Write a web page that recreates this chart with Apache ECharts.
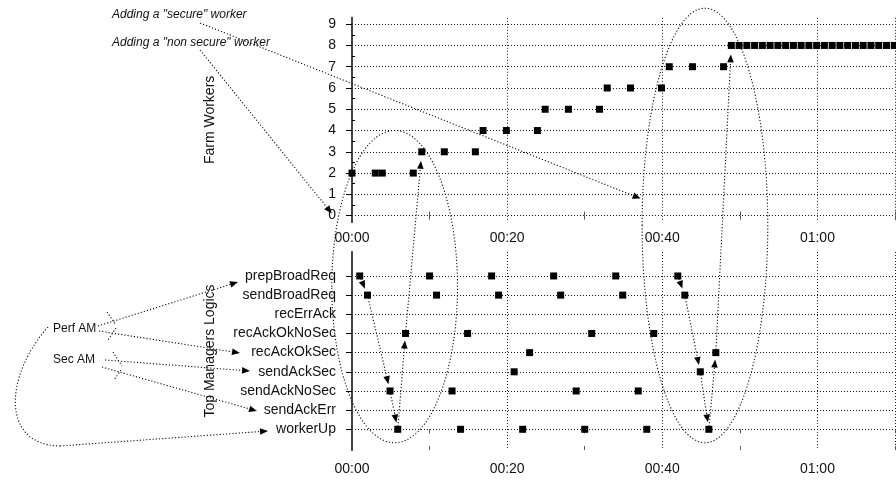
<!DOCTYPE html>
<html><head><meta charset="utf-8">
<script src="https://cdn.jsdelivr.net/npm/echarts@6/dist/echarts.min.js"></script>
<style>html,body{margin:0;padding:0;background:#fff}#c{width:896px;height:483px}</style>
</head><body><div id="c"></div>
<script>
// ---- data (time in minutes) ----
const tickMinutes = [0, 20, 40, 60];
const tickLabels = ['00:00', '00:20', '00:40', '01:00'];
const workerTicks = [0, 1, 2, 3, 4, 5, 6, 7, 8, 9];
const farmTimes = [0, 3, 3.9, 7.9, 9, 11.9, 15.9, 16.9, 19.9, 23.9, 24.9, 27.9, 31.9, 32.9, 35.9, 39.9, 40.9, 43.9, 47.9,
  48.9, 49.9, 50.9, 51.9, 52.9, 53.9, 54.9, 55.9, 56.9, 57.9, 58.9, 59.9, 60.9, 61.9, 62.9, 63.9, 64.9, 65.9, 66.9, 67.9, 68.9, 69.9];
const farmWorkers = [2, 2, 2, 2, 3, 3, 3, 4, 4, 4, 5, 5, 5, 6, 6, 6, 7, 7, 7,
  8, 8, 8, 8, 8, 8, 8, 8, 8, 8, 8, 8, 8, 8, 8, 8, 8, 8, 8, 8, 8, 8];
const categories = ['workerUp', 'sendAckErr', 'sendAckNoSec', 'sendAckSec', 'recAckOkSec', 'recAckOkNoSec', 'recErrAck', 'sendBroadReq', 'prepBroadReq'];
const prepBroadReq = [1, 10, 18, 26, 34, 42];
const sendBroadReq = [2, 10.9, 18.9, 26.9, 34.9, 42.9];
const recErrAck = [];
const recAckOkNoSec = [6.9, 14.9, 30.9, 38.9];
const recAckOkSec = [22.9, 46.9];
const sendAckSec = [20.9, 44.9];
const sendAckNoSec = [4.9, 12.9, 28.9, 36.9];
const sendAckErr = [];
const workerUp = [5.9, 14, 22, 30, 38, 46];

const managerEvents = { prepBroadReq, sendBroadReq, recErrAck, recAckOkNoSec, recAckOkSec, sendAckSec, sendAckNoSec, sendAckErr, workerUp };
const farmData = farmTimes.map((t, i) => [t, farmWorkers[i]]);
const managerData = [];
categories.forEach((c, ci) => managerEvents[c].forEach(t => managerData.push([t, ci])));

const FONT = "'Liberation Sans', Arial, Helvetica, sans-serif";
const TXT = '#111';
const dotted = { color: '#1a1a1a', type: [1, 2], width: 1 };
const xFmt = v => { const i = tickMinutes.indexOf(v); return i < 0 ? '' : tickLabels[i]; };

function mainX(g, margin) {
  return { gridIndex: g, type: 'value', min: 0, max: 70, interval: 20,
    axisLine: { show: false }, axisTick: { show: false },
    splitLine: { show: true, lineStyle: dotted },
    axisLabel: { formatter: xFmt, fontSize: 14, color: TXT, fontFamily: FONT, margin: margin } };
}
function minorX(g, pos) {
  return { gridIndex: g, type: 'value', position: pos, min: 0, max: 70,
    axisLine: { show: false }, splitLine: { show: false }, axisLabel: { show: false },
    axisTick: { show: true, inside: true, length: 4, customValues: [10, 30, 50, 70], lineStyle: { color: '#555' } } };
}
function rightY(g, min, max) {
  return { gridIndex: g, type: 'value', position: 'right', min: min, max: max,
    axisLine: { show: true, lineStyle: { color: '#444', width: 2 } },
    axisTick: { show: false }, axisLabel: { show: false }, splitLine: { show: false } };
}

const option = {
  animation: false,
  backgroundColor: '#fff',
  grid: [
    { left: 352, right: 1, top: 17.8, height: 204.2, outerBoundsMode: 'none', containLabel: false },
    { left: 352, right: 1, top: 252, height: 198, outerBoundsMode: 'none', containLabel: false }
  ],
  xAxis: [mainX(0, 9), minorX(0, 'top'), minorX(0, 'bottom'), mainX(1, 12), minorX(1, 'top'), minorX(1, 'bottom')],
  yAxis: [
    { gridIndex: 0, type: 'value', min: -0.3, max: 9.3,
      axisLine: { show: true, lineStyle: { color: '#000', width: 1.5 } },
      axisTick: { show: true, length: 6, customValues: workerTicks, lineStyle: { color: '#000' } },
      axisLabel: { customValues: workerTicks, fontSize: 14, color: TXT, fontFamily: FONT, margin: 16 },
      splitLine: { show: true, lineStyle: dotted },
      name: 'Farm Workers', nameLocation: 'middle', nameGap: 135,
      nameTextStyle: { fontSize: 14, color: TXT, fontFamily: FONT } },
    { gridIndex: 0, type: 'value', min: -0.3, max: 9.3,
      axisLine: { show: false }, axisLabel: { show: false }, splitLine: { show: false },
      axisTick: { show: true, length: 3, customValues: [0.5, 1.5, 2.5, 3.5, 4.5, 5.5, 6.5, 7.5, 8.5], lineStyle: { color: '#000' } } },
    rightY(0, -0.3, 9.3),
    { gridIndex: 1, type: 'value', min: -1.08, max: 9.25,
      axisLine: { show: true, lineStyle: { color: '#000', width: 1.5 } },
      axisTick: { show: true, length: 6, customValues: [0, 1, 2, 3, 4, 5, 6, 7, 8], lineStyle: { color: '#000' } },
      axisLabel: { customValues: [0, 1, 2, 3, 4, 5, 6, 7, 8], formatter: v => categories[Math.round(v)] || '',
        fontSize: 14, color: TXT, fontFamily: FONT, margin: 16 },
      splitLine: { show: true, lineStyle: dotted },
      name: 'Top Managers Logics', nameLocation: 'middle', nameGap: 135,
      nameTextStyle: { fontSize: 14, color: TXT, fontFamily: FONT } },
    rightY(1, -1.08, 9.25)
  ],
  series: [
    { type: 'scatter', xAxisIndex: 0, yAxisIndex: 0, data: farmData, symbol: 'rect', symbolSize: 7,
      itemStyle: { color: '#000', opacity: 1 }, z: 5 },
    { type: 'scatter', xAxisIndex: 3, yAxisIndex: 3, data: managerData, symbol: 'rect', symbolSize: 7,
      itemStyle: { color: '#000', opacity: 1 }, z: 5 }
  ]
};

const chart = echarts.init(document.getElementById('c'), null, { renderer: 'canvas' });
chart.setOption(option);

// ---- annotations ----
const P0 = v => chart.convertToPixel({ seriesIndex: 0 }, v);
const P1 = v => chart.convertToPixel({ seriesIndex: 1 }, v);
function ref(name, i) {
  if (name === 'farm') return P0([farmTimes[i], farmWorkers[i]]);
  return P1([managerEvents[name][i], categories.indexOf(name)]);
}
const els = [];
const ST = { stroke: '#111', lineWidth: 1.1, lineDash: [1.2, 2], fill: null };
function arrow(a, b, gap, startGap) {
  const dx = b[0] - a[0], dy = b[1] - a[1], len = Math.hypot(dx, dy), ux = dx / len, uy = dy / len;
  const s = [a[0] + ux * (startGap || 0), a[1] + uy * (startGap || 0)];
  const tip = [b[0] - ux * gap, b[1] - uy * gap];
  const L = 8, W = 3.3;
  const base = [tip[0] - ux * L, tip[1] - uy * L];
  els.push({ type: 'line', silent: true, z: 100, shape: { x1: s[0], y1: s[1], x2: base[0], y2: base[1] }, style: ST });
  els.push({ type: 'polygon', silent: true, z: 100,
    shape: { points: [tip, [base[0] - uy * W, base[1] + ux * W], [base[0] + uy * W, base[1] - ux * W]] },
    style: { fill: '#000' } });
}
function seg(pts) { els.push({ type: 'polyline', silent: true, z: 100, shape: { points: pts }, style: ST }); }
function text(t, x, y, italic) {
  els.push({ type: 'text', silent: true, z: 100, x: x, y: y,
    style: { text: t, fill: TXT, font: (italic ? 'italic ' : '') + '12px ' + FONT,
      align: 'left', verticalAlign: 'middle', textAlign: 'left', textVerticalAlign: 'middle' } });
}
function ellipse(t, topV, botV, halfW) {
  const top = P0([t, topV]), bot = P1([t, botV]);
  const rx = P0([t + halfW, 0])[0] - top[0];
  els.push({ type: 'ellipse', silent: true, z: 90,
    shape: { cx: top[0], cy: (top[1] + bot[1]) / 2, rx: rx, ry: (bot[1] - top[1]) / 2 }, style: ST });
}

// ellipses around the two worker-adding sequences
ellipse(5.5, 4, -0.7, 8.1);
ellipse(45.5, 9.75, -0.7, 8.1);

// chains
const chain1 = [['prepBroadReq', 0], ['sendBroadReq', 0], ['sendAckNoSec', 0], ['workerUp', 0], ['recAckOkNoSec', 0], ['farm', 4]];
const chain2 = [['prepBroadReq', 5], ['sendBroadReq', 5], ['sendAckSec', 1], ['workerUp', 5], ['recAckOkSec', 1], ['farm', 19]];
[chain1, chain2].forEach(ch => {
  for (let i = 0; i < ch.length - 1; i++) {
    arrow(ref(ch[i][0], ch[i][1]), ref(ch[i + 1][0], ch[i + 1][1]), i === ch.length - 2 ? 9 : 7, 3);
  }
});

// top-left notes
text('Adding a "secure" worker', 112, 15, true);
text('Adding a "non secure" worker', 112, 43, true);
arrow([200, 23], P0([37.2, 0.8]), 0);
arrow([200, 50], P0([-2.6, 0.1]), 0);

// left notes
text('Perf AM', 53, 329, false);
text('Sec AM', 53, 360, false);
arrow([98, 326], [238, 282], 0);
arrow([99, 331], [240, 353], 0);
arrow([105, 360], [250, 371], 0);
arrow([102, 367], [257, 411], 0);
seg([[107, 312], [116, 325]]);
seg([[116, 328], [108, 340]]);
seg([[113, 352], [122, 366]]);
seg([[121, 370], [114, 380]]);
els.push({ type: 'bezierCurve', silent: true, z: 100,
  shape: { x1: 48, y1: 327, cpx1: 5, cpy1: 375, cpx2: 0, cpy2: 445, x2: 60, y2: 446 }, style: ST });
arrow([60, 446], [268, 431], 0);

chart.setOption({ graphic: { elements: els } });
</script>
</body></html>
